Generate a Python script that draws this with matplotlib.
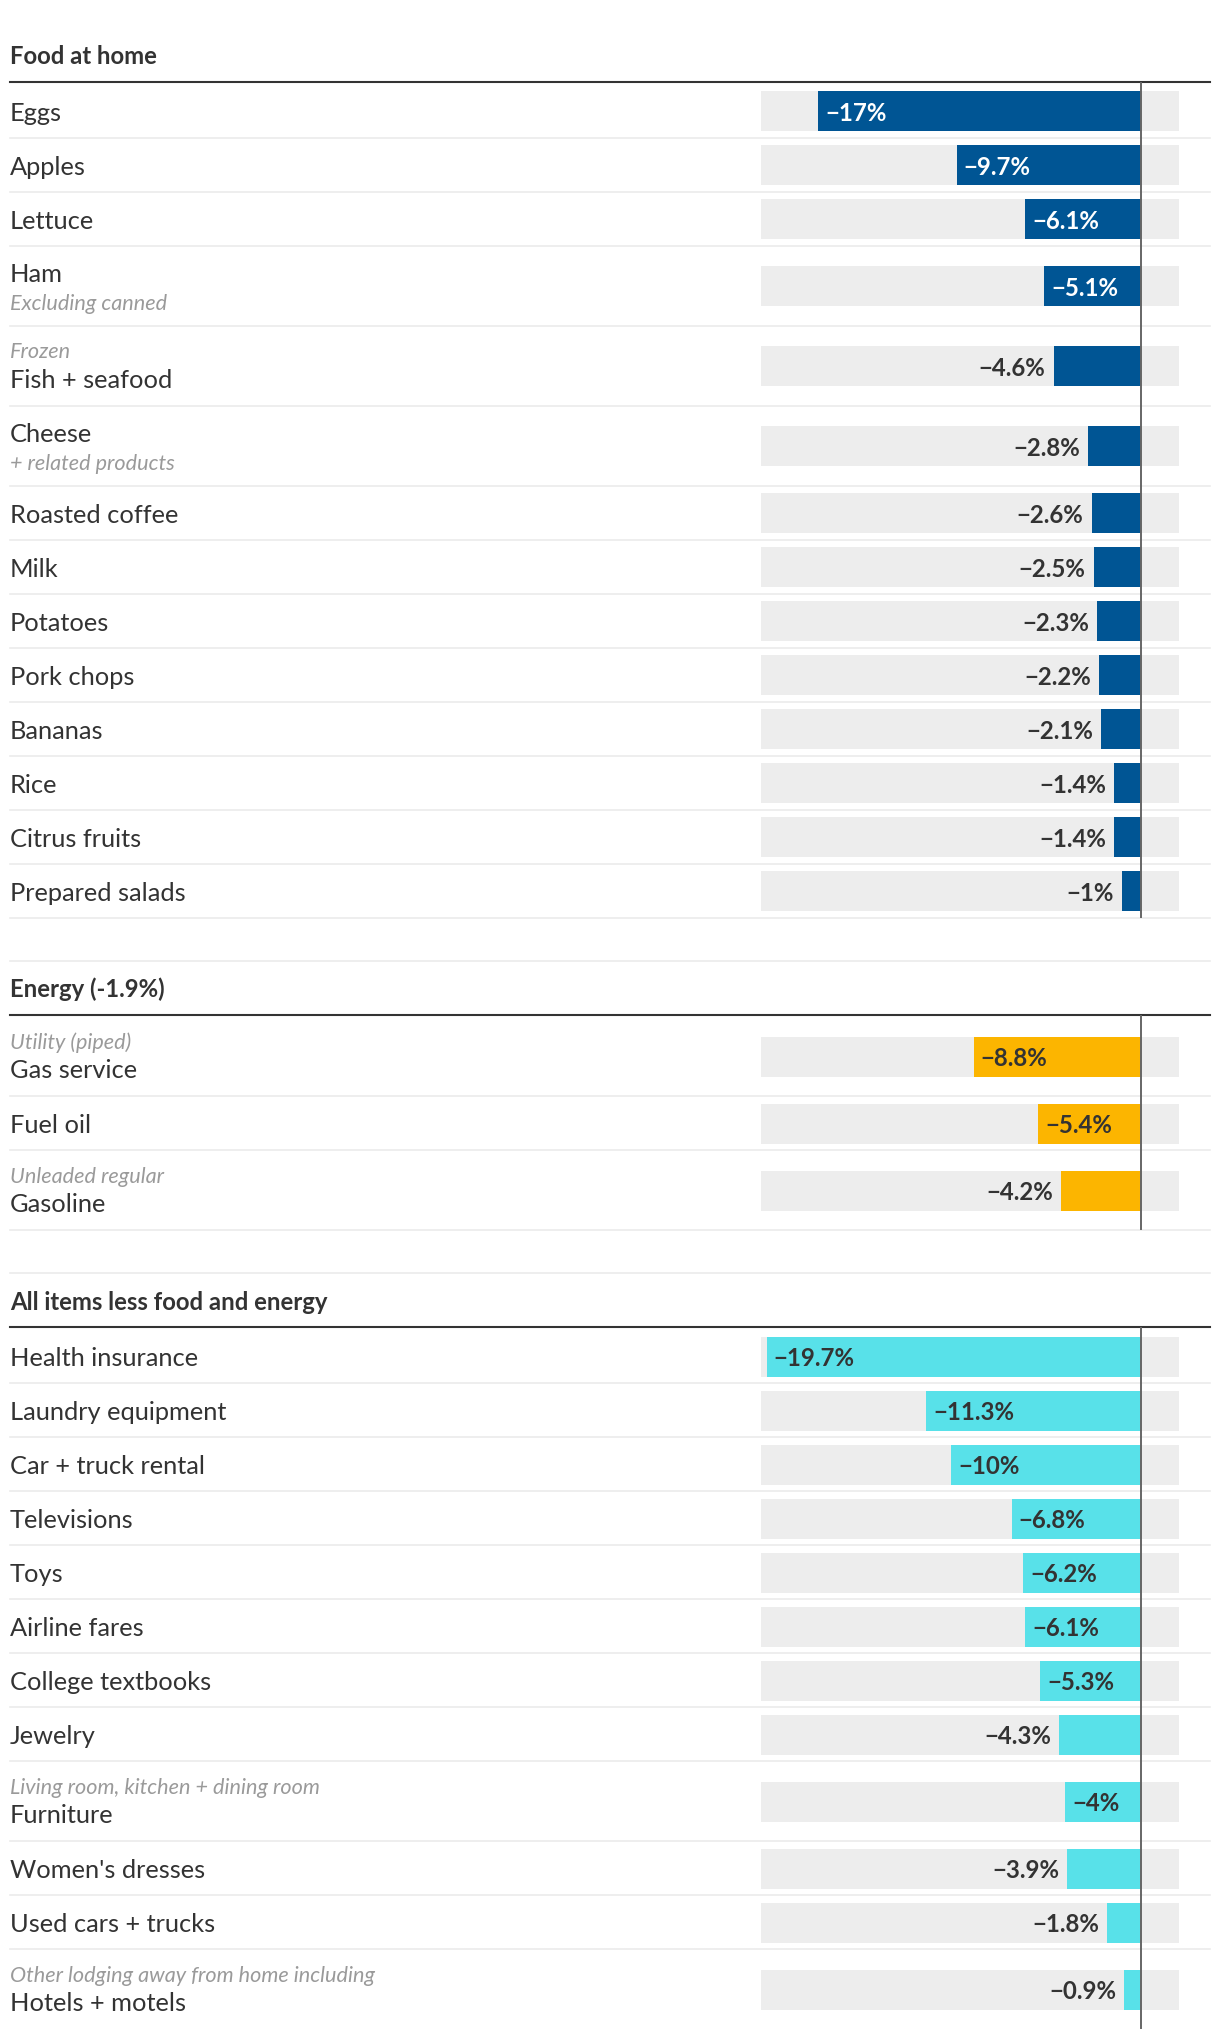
import matplotlib
matplotlib.use('Agg')
import matplotlib.pyplot as plt
import matplotlib.transforms as mtransforms

plt.rcParams['font.family'] = ['Lato', 'DejaVu Sans']

# ---- data -------------------------------------------------------------
food_labels = ['Eggs', 'Apples', 'Lettuce', 'Ham', 'Fish + seafood', 'Cheese',
               'Roasted coffee', 'Milk', 'Potatoes', 'Pork chops', 'Bananas',
               'Rice', 'Citrus fruits', 'Prepared salads']
food_notes = ['', '', '', 'Excluding canned', 'Frozen', '+ related products',
              '', '', '', '', '', '', '', '']
food_note_above = [False, False, False, False, True, False,
                   False, False, False, False, False, False, False, False]
food_values = [-17, -9.7, -6.1, -5.1, -4.6, -2.8, -2.6, -2.5, -2.3, -2.2,
               -2.1, -1.4, -1.4, -1.0]

energy_labels = ['Gas service', 'Fuel oil', 'Gasoline']
energy_notes = ['Utility (piped)', '', 'Unleaded regular']
energy_note_above = [True, False, True]
energy_values = [-8.8, -5.4, -4.2]

core_labels = ['Health insurance', 'Laundry equipment', 'Car + truck rental',
               'Televisions', 'Toys', 'Airline fares', 'College textbooks',
               'Jewelry', 'Furniture', "Women's dresses", 'Used cars + trucks',
               'Hotels + motels']
core_notes = ['', '', '', '', '', '', '', '',
              'Living room, kitchen + dining room', '', '',
              'Other lodging away from home including']
core_note_above = [False] * 8 + [True, False, False, True]
core_values = [-19.7, -11.3, -10, -6.8, -6.2, -6.1, -5.3, -4.3, -4, -3.9,
               -1.8, -0.9]

section_titles = ['Food at home', 'Energy (-1.9%)', 'All items less food and energy']

# ---- style ------------------------------------------------------------
BLUE = '#005594'
YELLOW = '#fcb500'
CYAN = '#58e1e9'
TRACK = '#ededed'
DARK = '#333333'
NOTE = '#9a9a9a'
SEP = '#ebebeb'

W, H = 1220, 2040
PX_PER_UNIT = 19.0
ZERO_PX = 1141
DOMAIN = (-20, 2)
ROW1, ROW2 = 54, 80
BAR_H = 40
LABEL_FS, NOTE_FS, TITLE_FS, VALUE_FS = 18.3, 15.6, 17.2, 17.3

fig = plt.figure(figsize=(W / 100, H / 100), dpi=100)
ax = fig.add_axes([0, 0, 1, 1])
ax.set_xlim(-ZERO_PX / PX_PER_UNIT, (W - ZERO_PX) / PX_PER_UNIT)
ax.set_ylim(H, 0)
ax.axis('off')
renderer = fig.canvas.get_renderer()

# x in axes fraction, y in pixel rows
trans = mtransforms.blended_transform_factory(ax.transAxes, ax.transData)
x_text = 10 / W
x_line0, x_line1 = 10 / W, 1210 / W
px = 1 / PX_PER_UNIT


def fmt(v):
    return '\u2212' + f'{abs(v):g}%'


def draw_section(title, labels, notes, above, values, color, header_y, top_line):
    if top_line:
        ax.axhline(header_y - 54, x_line0, x_line1, color=SEP, lw=1.2, zorder=1)
    ax.text(x_text, header_y - 18.5, title, transform=trans, fontsize=TITLE_FS,
            fontweight='bold', color=DARK, va='baseline')
    ax.axhline(header_y, x_line0, x_line1, color=DARK, lw=1.5, zorder=3)

    row_top = header_y + 1.7
    for lab, note, ab, v in zip(labels, notes, above, values):
        h = ROW2 if note else ROW1
        cy = row_top + h / 2 + 0.5

        # labels
        if not note:
            ax.text(x_text, cy + 8.6, lab, transform=trans, fontsize=LABEL_FS,
                    color=DARK, va='baseline')
        elif ab:
            ax.text(x_text, row_top + 31.6, note, transform=trans, fontsize=NOTE_FS,
                    style='italic', color=NOTE, va='baseline')
            ax.text(x_text, row_top + 60.8, lab, transform=trans, fontsize=LABEL_FS,
                    color=DARK, va='baseline')
        else:
            ax.text(x_text, row_top + 35.6, lab, transform=trans, fontsize=LABEL_FS,
                    color=DARK, va='baseline')
            ax.text(x_text, row_top + 63.3, note, transform=trans, fontsize=NOTE_FS,
                    style='italic', color=NOTE, va='baseline')

        # track + bar
        ax.barh(cy, DOMAIN[1] - DOMAIN[0], left=DOMAIN[0], height=BAR_H,
                color=TRACK, zorder=1)
        ax.barh(cy, v, left=0, height=BAR_H, color=color, zorder=2)

        # value label: inside if it fits, else to the left of the bar
        t = ax.text(v + 7 * px, cy + 8.5, fmt(v), fontsize=VALUE_FS, fontweight='bold',
                    va='baseline', ha='left', zorder=4)
        tw = t.get_window_extent(renderer).width
        if abs(v) * PX_PER_UNIT >= tw + 26:
            t.set_color('white' if color == BLUE else DARK)
        else:
            t.set_x(v - 8 * px)
            t.set_ha('right')
            t.set_color(DARK)

        row_top += h
        if not (color == CYAN and lab == labels[-1]):
            ax.axhline(row_top, x_line0, x_line1, color=SEP, lw=1.2, zorder=1)

    ax.plot([0, 0], [header_y + 1, row_top - 1], color='#666666', lw=1.4, zorder=5)
    return row_top


end = draw_section(section_titles[0], food_labels, food_notes, food_note_above,
                   food_values, BLUE, 83, False)
end = draw_section(section_titles[1], energy_labels, energy_notes, energy_note_above,
                   energy_values, YELLOW, end + 43 + 54, True)
end = draw_section(section_titles[2], core_labels, core_notes, core_note_above,
                   core_values, CYAN, end + 43 + 54, True)

fig.savefig('out.png', dpi=100, facecolor='white')
